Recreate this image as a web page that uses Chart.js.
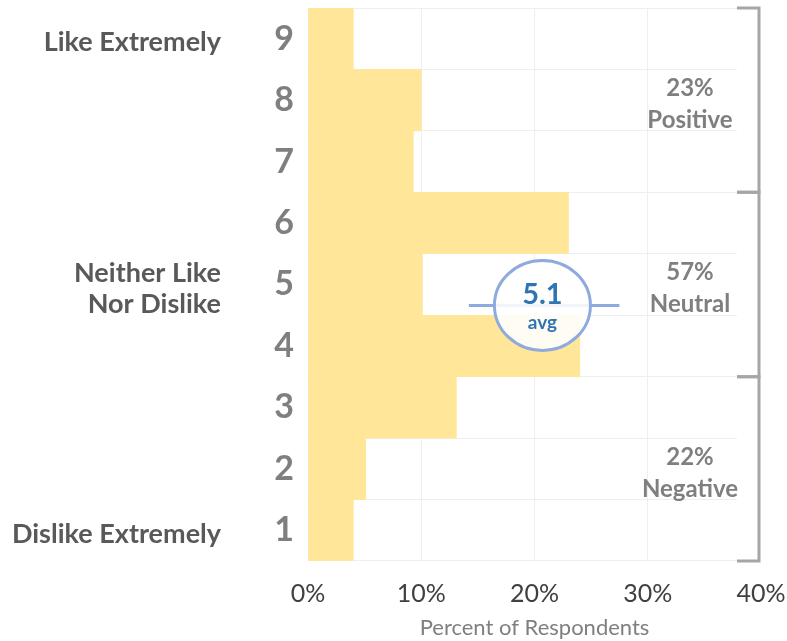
<!DOCTYPE html>
<html>
<head>
<meta charset="utf-8">
<script src="https://cdn.jsdelivr.net/npm/chart.js@4/dist/chart.umd.min.js"></script>
<style>
  html, body { margin: 0; padding: 0; background: #fff; }
  #wrap { width: 787px; height: 641px; position: relative; }
</style>
</head>
<body>
<div id="wrap"><canvas id="rating-chart"></canvas></div>
<script>
const ratings = ["9", "8", "7", "6", "5", "4", "3", "2", "1"];
const percents = [4.0, 10.0, 9.3, 23.0, 10.1, 24.0, 13.1, 5.1, 4.0];
const xTicks = [0, 10, 20, 30, 40];
const anchorLabels = [
  { rating: "9", lines: ["Like Extremely"] },
  { rating: "5", lines: ["Neither Like", "Nor Dislike"] },
  { rating: "1", lines: ["Dislike Extremely"] },
];
const groups = [
  { from: "9", to: "7", lines: ["23%", "Positive"] },
  { from: "6", to: "4", lines: ["57%", "Neutral"] },
  { from: "3", to: "1", lines: ["22%", "Negative"] },
];
const avgText = "5.1";
// where the avg marker sits: rating position, centre and line span in percent
const avgMarker = { rating: 4.66, center: 20.7, from: 14.2, to: 27.5 };

const FONT = "Lato";

const overlay = {
  id: "overlay",
  beforeDatasetsDraw(chart) {
    const { ctx, chartArea } = chart;
    // grid stops short of the brackets
    ctx.save();
    ctx.fillStyle = "#fff";
    ctx.fillRect(737, chartArea.top - 2, chartArea.right - 737 + 4, chartArea.height + 4);
    ctx.restore();
  },
  afterDatasetsDraw(chart) {
    const { ctx, scales } = chart;
    const x = scales.x;
    const y = scales.y;
    const ratingY = (r) => y.getPixelForValue(ratings.indexOf(String(r)));
    const half = (y.getPixelForValue(1) - y.getPixelForValue(0)) / 2;

    ctx.save();
    // left anchor labels
    ctx.fillStyle = "#595959";
    ctx.font = `bold 27px ${FONT}`;
    ctx.textAlign = "right";
    ctx.textBaseline = "middle";
    anchorLabels.forEach((a) => {
      const cy = ratingY(a.rating) + 4;
      const start = cy - ((a.lines.length - 1) * 31) / 2;
      a.lines.forEach((t, i) => ctx.fillText(t, 221, start + i * 31));
    });

    // brackets and group labels
    ctx.strokeStyle = "#A6A6A6";
    ctx.lineWidth = 3;
    groups.forEach((g) => {
      const top = ratingY(g.from) - half;
      const bottom = ratingY(g.to) + half;
      ctx.beginPath();
      ctx.moveTo(737, top);
      ctx.lineTo(759, top);
      ctx.lineTo(759, bottom);
      ctx.lineTo(737, bottom);
      ctx.stroke();

      ctx.fillStyle = "#7F7F7F";
      ctx.font = `bold 24px ${FONT}`;
      ctx.textAlign = "center";
      const mid = (top + bottom) / 2 + 4;
      ctx.fillText(g.lines[0], 690, mid - 16);
      ctx.fillText(g.lines[1], 690, mid + 16);
    });

    // average marker
    const ay = y.getPixelForValue(9 - avgMarker.rating);
    const ax = x.getPixelForValue(avgMarker.center);
    ctx.strokeStyle = "#8FAADC";
    ctx.lineWidth = 3;
    ctx.beginPath();
    ctx.moveTo(x.getPixelForValue(avgMarker.from), ay);
    ctx.lineTo(x.getPixelForValue(avgMarker.to), ay);
    ctx.stroke();
    ctx.beginPath();
    ctx.ellipse(ax, ay, 48, 45, 0, 0, Math.PI * 2);
    ctx.fillStyle = "rgba(255,255,255,0.88)";
    ctx.fill();
    ctx.stroke();
    ctx.fillStyle = "#2E75B6";
    ctx.textAlign = "center";
    ctx.font = `bold 29px ${FONT}`;
    ctx.fillText(avgText, ax, ay - 11);
    ctx.font = `bold 19px ${FONT}`;
    ctx.fillText("avg", ax, ay + 17);
    ctx.restore();
  },
};

new Chart(document.getElementById("rating-chart"), {
  type: "bar",
  data: {
    labels: ratings,
    datasets: [
      {
        data: percents,
        backgroundColor: "#FFE699",
        barPercentage: 1,
        categoryPercentage: 1,
      },
    ],
  },
  options: {
    indexAxis: "y",
    responsive: true,
    maintainAspectRatio: false,
    animation: false,
    layout: { padding: { top: 8, right: 26, bottom: 0, left: 0 } },
    plugins: {
      legend: { display: false },
      tooltip: { enabled: false },
    },
    scales: {
      x: {
        min: 0,
        max: 40,
        afterBuildTicks: (scale) => {
          scale.ticks = xTicks.map((v) => ({ value: v }));
        },
        afterFit: (scale) => {
          scale.height = 80;
          scale.paddingLeft = 0;
          scale.paddingRight = 0;
        },
        ticks: {
          callback: (v) => `${v}%`,
          color: "#404040",
          font: { family: FONT, size: 25 },
          padding: 18,
          maxRotation: 0,
        },
        grid: { color: "#EFEFEF", drawTicks: false },
        border: { display: false },
        title: {
          display: true,
          text: "Percent of Respondents",
          color: "#7F7F7F",
          font: { family: FONT, size: 22 },
          padding: { top: 0, bottom: 0 },
        },
      },
      y: {
        afterFit: (scale) => {
          scale.width = 308;
          scale.paddingTop = 0;
          scale.paddingBottom = 0;
        },
        ticks: {
          color: "#7F7F7F",
          font: { family: FONT, size: 34, weight: "bold" },
          padding: 14,
        },
        grid: { color: "#EFEFEF", drawTicks: false },
        border: { display: false },
      },
    },
  },
  plugins: [overlay],
});
</script>
</body>
</html>
